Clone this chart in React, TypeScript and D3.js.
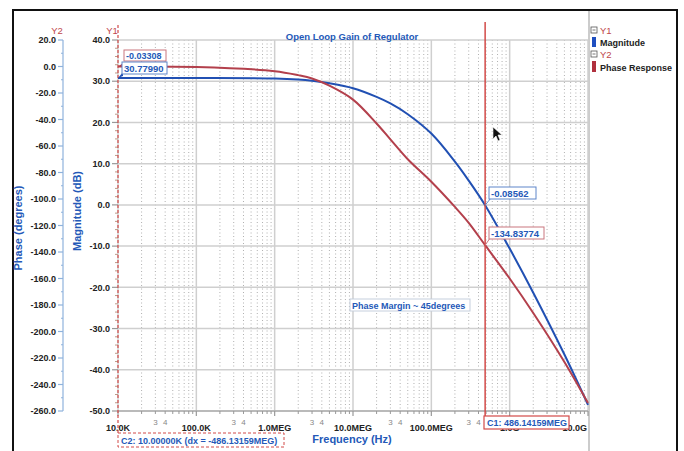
import React from "react";
import * as d3 from "d3";

// Open-loop frequency response of the regulator
const freqs = [1e4, 1e5, 1e6, 2e6, 3e6, 5e6, 1e7, 2e7, 3e7, 5e7, 1e8, 2e8, 3e8, 4.8614159e8, 1e9, 2e9, 5e9, 1e10];
const magnitudeDb = [30.7799, 30.77, 30.65, 30.4, 30.1, 29.5, 28.3, 26.2, 24.6, 22.0, 17.3, 10.5, 5.9, -0.08562, -10.6, -21.3, -36.3, -48.5];
const phaseDeg = [-0.03308, -0.4, -3.5, -6.5, -9.0, -14.5, -25.0, -43.0, -55.0, -70.0, -87.0, -106.0, -118.0, -134.83774, -160.0, -186.0, -223.0, -254.0];

const y1Ticks = [40, 30, 20, 10, 0, -10, -20, -30, -40, -50];
const y2Ticks = [20, 0, -20, -40, -60, -80, -100, -120, -140, -160, -180, -200, -220, -240, -260];
const xTickValues = [1e4, 1e5, 1e6, 1e7, 1e8, 1e9, 1e10];
const xTickLabels = ["10.0K", "100.0K", "1.0MEG", "10.0MEG", "100.0MEG", "1.0G", "10.0G"];

const cursor1 = 4.8614159e8;
const cursor2 = 1e4;
const c1Label = "C1: 486.14159MEG";
const c2Label = "C2: 10.00000K (dx = -486.13159MEG)";
const c2PhaseLabel = "-0.03308";
const c2MagLabel = "30.77990";
const c1MagLabel = "-0.08562";
const c1PhaseLabel = "-134.83774";
const annotation = "Phase Margin ~ 45degrees";

const BLUE = "#2150b3";
const RED = "#b3404c";
const CURSOR = "#d24a48";
const TEXTBLUE = "#2459b8";
const FONT = "'Liberation Sans', Arial, sans-serif";

export default function App() {
  const W = 684, H = 451;
  const left = 118, right = 588, top = 40, bottom = 411;
  const x = d3.scaleLog().domain([1e4, 1e10]).range([left, right]);
  const y1 = d3.scaleLinear().domain([-50, 40]).range([bottom, top]);
  const y2 = d3.scaleLinear().domain([-260, 20]).range([bottom, top]);

  const magLine = d3.line<number>().x((_, i) => x(freqs[i])).y((d) => y1(d)).curve(d3.curveCatmullRom.alpha(0.5));
  const phaseLine = d3.line<number>().x((_, i) => x(freqs[i])).y((d) => y2(d)).curve(d3.curveCatmullRom.alpha(0.5));

  // C1 readout box extents on the frequency axis
  const c1Box = { x: 484, y: 416, w: 85, h: 13 };

  const minorX: number[] = [];
  for (let e = 4; e < 10; e++) for (let m = 2; m <= 9; m++) minorX.push(m * Math.pow(10, e));
  const minorLabelX: { f: number; t: string }[] = [];
  for (let e = 4; e < 10; e++) {
    minorLabelX.push({ f: 3 * Math.pow(10, e), t: "3" });
    minorLabelX.push({ f: 4 * Math.pow(10, e), t: "4" });
  }
  const visibleMinorLabels = minorLabelX.filter((d) => x(d.f) < c1Box.x - 2 || x(d.f) > c1Box.x + c1Box.w + 2);
  const y1Minor = d3.range(-50, 40, 2).filter((v) => v % 10 !== 0);
  const y2Minor = d3.range(-250, 20, 20);

  const xc1 = x(cursor1), xc2 = x(cursor2);
  const c2p = y2(phaseDeg[0]), c2m = y1(magnitudeDb[0]);
  const c1m = y1(magnitudeDb[13]), c1p = y2(phaseDeg[13]);

  return (
    <svg width={W} height={H} style={{ position: "absolute", left: 0, top: 0, background: "#fff" }} fontFamily={FONT}>
      <rect x={0} y={0} width={W} height={H} fill="#fff" />
      {/* frame */}
      <rect x={13} y={10} width={664} height={460} fill="none" stroke="#111" strokeWidth={2} />
      <line x1={589} x2={589} y1={11} y2={H} stroke="#bbb" strokeWidth={1.5} />

      {/* minor vertical grid */}
      {minorX.map((f, i) => (
        <line key={"mx" + i} x1={x(f)} x2={x(f)} y1={top} y2={bottom} stroke="#b0b0b0" strokeWidth={1} strokeDasharray="1,2.5" />
      ))}
      {/* major grid */}
      {xTickValues.map((f, i) => (
        <line key={"gx" + i} x1={x(f)} x2={x(f)} y1={top} y2={bottom} stroke="#cfcfcf" strokeWidth={1.5} />
      ))}
      {y1Ticks.map((v, i) => (
        <line key={"gy" + i} x1={left} x2={right} y1={y1(v)} y2={y1(v)} stroke="#cfcfcf" strokeWidth={1.5} />
      ))}

      {/* title */}
      <text x={352} y={40} textAnchor="middle" fontSize={9.5} fontWeight="bold" fill={TEXTBLUE}>Open Loop Gain of Regulator</text>

      {/* Y2 axis (phase) */}
      <text x={57} y={34} textAnchor="middle" fontSize={9.5} fill="#c0474a">Y2</text>
      <line x1={63} x2={63} y1={top} y2={bottom} stroke="#8fb2dc" strokeWidth={1.2} />
      {y2Ticks.map((v, i) => (
        <g key={"y2t" + i}>
          <line x1={58} x2={63} y1={y2(v)} y2={y2(v)} stroke="#8fb2dc" strokeWidth={1.2} />
          <text x={56} y={y2(v) + 3.2} textAnchor="end" fontSize={9} fontWeight="bold" fill="#222">{v.toFixed(1)}</text>
        </g>
      ))}
      {y2Minor.map((v, i) => (
        <line key={"y2m" + i} x1={61} x2={63} y1={y2(v)} y2={y2(v)} stroke="#8fb2dc" strokeWidth={1} />
      ))}
      <text transform={`translate(22,${228}) rotate(-90)`} textAnchor="middle" fontSize={11} fontWeight="bold" fill={TEXTBLUE}>Phase (degrees)</text>

      {/* Y1 axis (magnitude) */}
      <text x={112} y={34} textAnchor="middle" fontSize={9.5} fill="#c0474a">Y1</text>
      {y1Ticks.map((v, i) => (
        <g key={"y1t" + i}>
          <line x1={112} x2={118} y1={y1(v)} y2={y1(v)} stroke="#999" strokeWidth={1.2} />
          <text x={110} y={y1(v) + 3.2} textAnchor="end" fontSize={9} fontWeight="bold" fill="#222">{v.toFixed(1)}</text>
        </g>
      ))}
      {y1Minor.map((v, i) => (
        <line key={"y1m" + i} x1={115} x2={118} y1={y1(v)} y2={y1(v)} stroke="#b98" strokeWidth={1} />
      ))}
      <text transform={`translate(81,${211}) rotate(-90)`} textAnchor="middle" fontSize={11} fontWeight="bold" fill={TEXTBLUE}>Magnitude (dB)</text>

      {/* X axis */}
      <line x1={left} x2={right} y1={bottom} y2={bottom} stroke="#999" strokeWidth={1.2} />
      {minorX.map((f, i) => (
        <line key={"xm" + i} x1={x(f)} x2={x(f)} y1={bottom} y2={bottom + 3} stroke="#999" strokeWidth={1} />
      ))}
      {xTickValues.map((f, i) => (
        <line key={"xt" + i} x1={x(f)} x2={x(f)} y1={bottom} y2={bottom + 5} stroke="#999" strokeWidth={1.2} />
      ))}
      {visibleMinorLabels.map((d, i) => (
        <text key={"xml" + i} x={x(d.f)} y={425} textAnchor="middle" fontSize={8} fill="#888">{d.t}</text>
      ))}
      {xTickValues.map((f, i) => (
        <text key={"xl" + i} x={i === xTickValues.length - 1 ? x(f) - 1 : x(f)} y={431} textAnchor={i === xTickValues.length - 1 ? "end" : "middle"} fontSize={9} fontWeight="bold" fill="#222">{xTickLabels[i]}</text>
      ))}
      <text x={352} y={443} textAnchor="middle" fontSize={11} fontWeight="bold" fill={TEXTBLUE}>Frequency (Hz)</text>

      {/* curves */}
      <path d={magLine(magnitudeDb) || ""} fill="none" stroke={BLUE} strokeWidth={2} />
      <path d={phaseLine(phaseDeg) || ""} fill="none" stroke={RED} strokeWidth={2} />

      {/* cursors */}
      <line x1={xc2} x2={xc2} y1={25} y2={433} stroke={CURSOR} strokeWidth={1.2} strokeDasharray="3,2" />
      <line x1={xc1} x2={xc1} y1={22} y2={c1Box.y} stroke={CURSOR} strokeWidth={1.5} />

      {/* cursor value boxes at C2 */}
      <path d={`M${xc2},${c2p} L${xc2 + 6},${c2p - 4} L${xc2 + 6},${c2p + 1} Z`} fill={RED} />
      <rect x={124} y={50} width={42} height={11} fill="#fff" stroke="#c9777f" strokeWidth={1} />
      <text x={126} y={58.8} fontSize={9} fontWeight="bold" fill={TEXTBLUE}>{c2PhaseLabel}</text>
      <path d={`M${xc2},${c2m} L${xc2 + 5},${c2m - 6} L${xc2 + 5},${c2m - 2} Z`} fill={BLUE} />
      <rect x={122} y={62} width={45} height={12} fill="#fff" stroke="#5f86c9" strokeWidth={1} />
      <text x={124} y={71.5} fontSize={9.5} fontWeight="bold" fill={TEXTBLUE}>{c2MagLabel}</text>

      {/* cursor value boxes at C1 */}
      <line x1={xc1} y1={c1m} x2={xc1 + 5} y2={199} stroke="#5f86c9" strokeWidth={1} />
      <rect x={489} y={187} width={47} height={12} fill="#fff" stroke="#5f86c9" strokeWidth={1} />
      <text x={491} y={196.5} fontSize={9.5} fontWeight="bold" fill={TEXTBLUE}>{c1MagLabel}</text>
      <line x1={xc1} y1={c1p} x2={xc1 + 5} y2={238} stroke="#c9777f" strokeWidth={1} />
      <rect x={489} y={227} width={55} height={12} fill="#fff" stroke="#c9777f" strokeWidth={1} />
      <text x={491} y={236.5} fontSize={9.5} fontWeight="bold" fill={TEXTBLUE}>{c1PhaseLabel}</text>

      {/* annotation */}
      <rect x={350} y={299} width={120} height={12} fill="#fff" stroke="#c6cfdd" strokeWidth={1} />
      <text x={352} y={308.5} fontSize={9} fontWeight="bold" fill={TEXTBLUE}>{annotation}</text>

      {/* cursor labels */}
      <rect x={c1Box.x} y={c1Box.y} width={c1Box.w} height={c1Box.h} fill="#fff" stroke={CURSOR} strokeWidth={1.2} />
      <text x={c1Box.x + 3} y={c1Box.y + 9.5} fontSize={9} fontWeight="bold" fill={TEXTBLUE}>{c1Label}</text>
      <rect x={118} y={433} width={166} height={14} fill="#fff" stroke={CURSOR} strokeWidth={1} strokeDasharray="3,2" />
      <text x={121} y={443.5} fontSize={9} fontWeight="bold" fill={TEXTBLUE}>{c2Label}</text>

      {/* mouse pointer */}
      <path d="M493,127 L493,139 L496,136 L498,141 L500,140 L498,135 L502,135 Z" fill="#111" stroke="#fff" strokeWidth={0.6} />

      {/* legend */}
      <rect x={591} y={27} width={6} height={6} fill="#fff" stroke="#555" strokeWidth={0.8} />
      <line x1={592.5} x2={595.5} y1={30} y2={30} stroke="#555" strokeWidth={0.8} />
      <text x={600} y={33.5} fontSize={9.5} fill="#c0474a">Y1</text>
      <rect x={592} y={37} width={4} height={10} fill="#1f4fc0" />
      <text x={600} y={46} fontSize={9} fontWeight="bold" fill="#222">Magnitude</text>
      <rect x={591} y={51} width={6} height={6} fill="#fff" stroke="#555" strokeWidth={0.8} />
      <line x1={592.5} x2={595.5} y1={54} y2={54} stroke="#555" strokeWidth={0.8} />
      <text x={600} y={58} fontSize={9.5} fill="#c0474a">Y2</text>
      <rect x={592} y={61} width={4} height={11} fill="#b0303e" />
      <text x={600} y={70.5} fontSize={9} fontWeight="bold" fill="#222">Phase Response</text>
    </svg>
  );
}
